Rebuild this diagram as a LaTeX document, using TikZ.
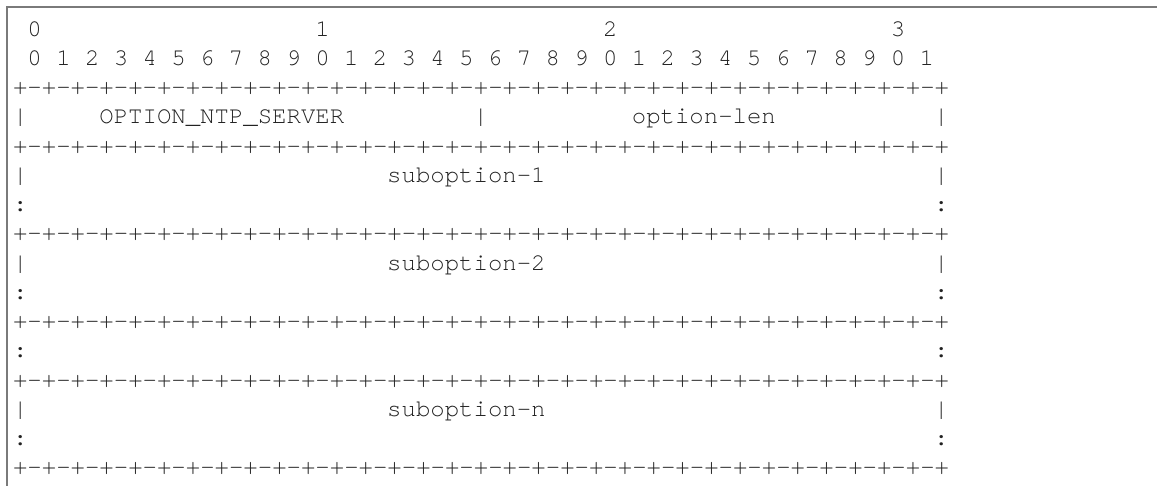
\documentclass[tikz,border=0pt]{standalone}
\usepackage{fontspec}
\newfontfamily\asciimono{texgyrecursor-regular.otf}
\definecolor{framegray}{HTML}{7A7A7A}
\definecolor{inkcol}{HTML}{222222}
\newcommand\CX[1]{13.1+14.39*(#1)}
\newcommand\RY[1]{36.3+29.23*(#1)}
\def\sepeight{+-+-+-+-+-+-+-+-}
\tikzset{
  glyph/.style={inner sep=0pt, outer sep=0pt, anchor=base west, text=inkcol,
    font=\asciimono\fontsize{24}{29}\selectfont},
  frameline/.style={draw=framegray, line width=2pt}
}
\begin{document}
\begin{tikzpicture}[x=1pt,y=-1pt]
\useasboundingbox (0,0) rectangle (1157,486);
% frame (left and top only)
\draw[frameline] (7,487) -- (7,7) -- (1158,7);
% ruler row 0
\node[glyph] (r0a) at ({\CX{1}},{\RY{0}}) {0};
\node[glyph] (r0b) at ({\CX{21}},{\RY{0}}) {1};
\node[glyph] (r0c) at ({\CX{41}},{\RY{0}}) {2};
\node[glyph] (r0d) at ({\CX{61}},{\RY{0}}) {3};
% ruler row 1
\foreach \i in {0,...,31}{
  \pgfmathtruncatemacro\dg{mod(\i,10)}
  \node[glyph] (r1d\i) at ({\CX{2*\i+1}},{\RY{1}}) {\dg};
}
% separator rows
\foreach \r in {2,4,7,10,12,15}{
  \node[glyph] (sep\r) at ({\CX{0}},{\RY{\r}}) {\sepeight\sepeight\sepeight\sepeight+};
}
% row 3
\node[glyph] (r3l) at ({\CX{0}},{\RY{3}}) {|};
\node[glyph] (ntp) at ({\CX{6}},{\RY{3}}) {OPTION\_NTP\_SERVER};
\node[glyph] (r3m) at ({\CX{32}},{\RY{3}}) {|};
\node[glyph] (olen) at ({\CX{43}},{\RY{3}}) {option-len};
\node[glyph] (r3r) at ({\CX{64}},{\RY{3}}) {|};
% suboption rows
\foreach \r/\t in {5/suboption-1,8/suboption-2,13/suboption-n}{
  \node[glyph] (bl\r) at ({\CX{0}},{\RY{\r}}) {|};
  \node[glyph] (lab\r) at ({\CX{26}},{\RY{\r}}) {\t};
  \node[glyph] (br\r) at ({\CX{64}},{\RY{\r}}) {|};
}
% colon rows
\foreach \r in {6,9,11,14}{
  \node[glyph] (cl\r) at ({\CX{0}},{\RY{\r}}) {:};
  \node[glyph] (cr\r) at ({\CX{64}},{\RY{\r}}) {:};
}
\end{tikzpicture}
\end{document}
